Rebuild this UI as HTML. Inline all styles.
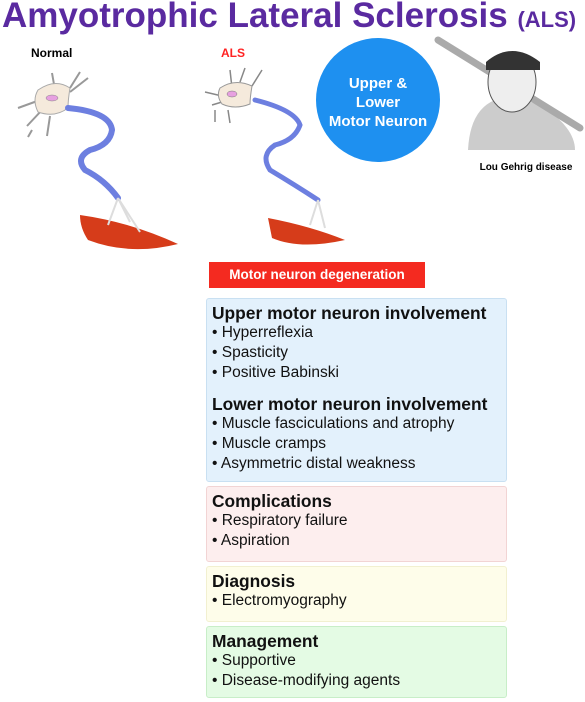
<!DOCTYPE html>
<html><head><meta charset="utf-8"><style>
body{margin:0;width:585px;height:702px;background:#fff;position:relative;overflow:hidden;font-family:"Liberation Sans",Arial,sans-serif}
.abs{position:absolute}
.box{position:absolute;left:206px;width:301px;border:1px solid;border-radius:3px;box-sizing:border-box;padding:4px 0 0 5px}
.h{font-weight:bold;font-size:17.4px;line-height:20px;color:#111}
.i{font-size:15.5px;line-height:20px;color:#111}
</style></head><body>
<div class="abs" style="left:2px;top:-4px;font-size:35px;font-weight:bold;color:#5a2aa0;white-space:nowrap;letter-spacing:0">Amyotrophic Lateral Sclerosis <span style="font-size:22px">(ALS)</span></div>
<div class="abs" style="left:31px;top:46px;font-size:12px;font-weight:bold">Normal</div>
<div class="abs" style="left:221px;top:46px;font-size:12px;font-weight:bold;color:#f22">ALS</div>
<svg class="abs" style="left:0;top:0" width="585" height="260">
 <g>
  <path d="M18,108 L40,100 M27,126 L42,110 M32,130 L28,137 M50,116 L47,136 M52,73 L55,90 M80,72 L70,88 M88,78 L70,92" stroke="#999" stroke-width="2" fill="none"/>
  <path d="M38,90 Q55,78 70,88 Q68,100 68,108 Q55,118 38,112 Q32,100 38,90Z" fill="#f5eadc" stroke="#aaa"/>
  <ellipse cx="52" cy="98" rx="6" ry="3" fill="#e7a0e0" stroke="#888" stroke-width=".5"/>
  <path d="M68,108 Q110,112 112,130 Q110,145 90,150 Q75,158 85,170 Q105,180 118,198" stroke="#6d7fe0" stroke-width="6" fill="none" stroke-linecap="round"/>
  <path d="M80,215 Q130,222 178,244 Q130,256 88,240 Q80,228 80,215 Z" fill="#d63c1a"/>
  <path d="M118,198 L108,225 M118,198 L130,222 M118,198 L140,232" stroke="#ddd" stroke-width="2"/>
 </g>
 <g>
  <path d="M205,92 L222,96 M212,105 L222,102 M215,110 L215,122 M228,110 L230,123 M230,70 L232,88 M245,68 L240,82 M262,70 L252,86" stroke="#888" stroke-width="1.5" fill="none"/>
  <path d="M220,88 Q235,78 252,86 Q250,98 250,104 Q235,110 222,104 Q216,96 220,88Z" fill="#f5eadc" stroke="#999"/>
  <ellipse cx="232" cy="94" rx="5" ry="3" fill="#e7a0e0" stroke="#777" stroke-width=".5"/>
  <path d="M255,100 Q295,110 300,125 Q295,140 275,145 Q260,155 270,170 Q295,185 318,200" stroke="#6d7fe0" stroke-width="5" fill="none" stroke-linecap="round"/>
  <path d="M268,218 Q310,226 345,240 Q300,250 272,238 Z" fill="#d63c1a"/>
  <path d="M318,200 L310,225 M318,200 L325,228" stroke="#ddd" stroke-width="2"/>
 </g>
 <circle cx="378" cy="100" r="62" fill="#1e90f0"/>
 <text x="378" y="88" text-anchor="middle" fill="#fff" font-weight="bold" font-size="15">Upper &amp;</text>
 <text x="378" y="107" text-anchor="middle" fill="#fff" font-weight="bold" font-size="15">Lower</text>
 <text x="378" y="126" text-anchor="middle" fill="#fff" font-weight="bold" font-size="15">Motor Neuron</text>
 <g>
  <path d="M468,150 Q470,110 495,100 Q525,95 548,110 Q575,130 575,150 Z" fill="#ccc"/>
  <path d="M438,40 L580,128" stroke="#aaa" stroke-width="7" stroke-linecap="round"/>
  <ellipse cx="512" cy="82" rx="24" ry="30" fill="#eee" stroke="#555"/>
  <path d="M486,62 Q512,40 540,62 L540,70 L486,70Z" fill="#333"/>
 </g>
 <text x="526" y="170" text-anchor="middle" font-weight="bold" font-size="10">Lou Gehrig disease</text>
</svg>
<div class="abs" style="left:209px;top:262px;width:216px;height:26px;background:#f42a20;color:#fff;font-weight:bold;font-size:13.5px;line-height:26px;text-align:center">Motor neuron degeneration</div>
<div class="box" style="top:298px;height:184px;background:#e3f1fc;border-color:#c9e0f2">
 <div class="h">Upper motor neuron involvement</div>
 <div class="i">• Hyperreflexia</div><div class="i">• Spasticity</div><div class="i">• Positive Babinski</div>
 <div class="h" style="margin-top:11px">Lower motor neuron involvement</div>
 <div class="i">• Muscle fasciculations and atrophy</div><div class="i">• Muscle cramps</div><div class="i">• Asymmetric distal weakness</div>
</div>
<div class="box" style="top:486px;height:76px;background:#fdeeee;border-color:#f2d4d4">
 <div class="h">Complications</div><div class="i">• Respiratory failure</div><div class="i">• Aspiration</div>
</div>
<div class="box" style="top:566px;height:56px;background:#fefdea;border-color:#f2f0d0">
 <div class="h">Diagnosis</div><div class="i">• Electromyography</div>
</div>
<div class="box" style="top:626px;height:72px;background:#e4fbe4;border-color:#c8eec8">
 <div class="h">Management</div><div class="i">• Supportive</div><div class="i">• Disease-modifying agents</div>
</div>
</body></html>
